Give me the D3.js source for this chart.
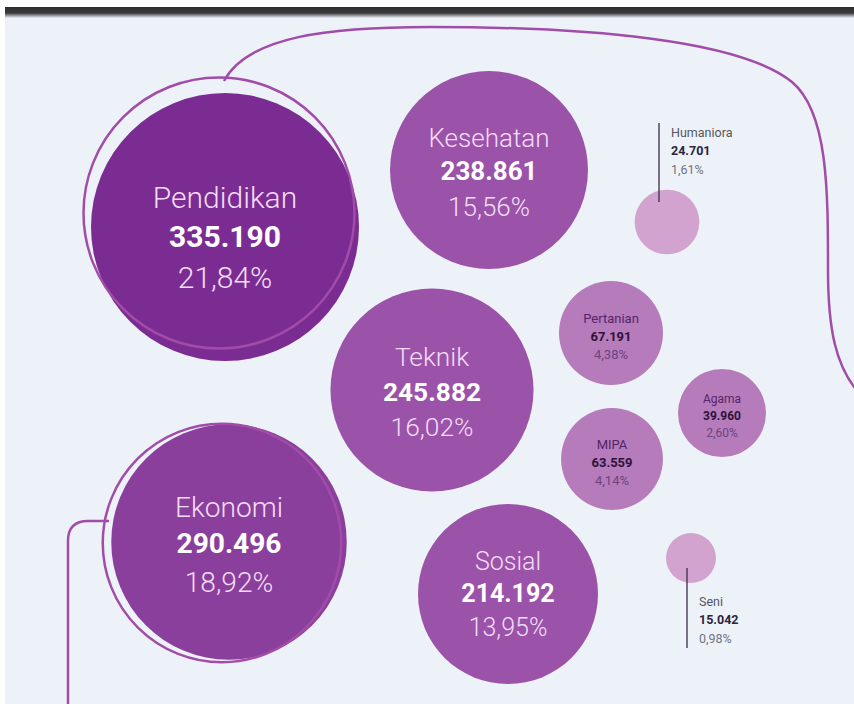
<!DOCTYPE html>
<html>
<head>
<meta charset="utf-8">
<script src="https://cdn.jsdelivr.net/npm/d3@7"></script>
<style>
  html, body { margin: 0; padding: 0; background: #fff; }
  svg { display: block; font-family: Roboto, "Noto Sans", sans-serif; }
</style>
</head>
<body>
<div id="chart"></div>
<script>
// Mahasiswa per bidang ilmu
const categories = ['Pendidikan', 'Ekonomi', 'Teknik', 'Kesehatan', 'Sosial', 'Pertanian', 'MIPA', 'Agama', 'Humaniora', 'Seni'];
const students = [335190, 290496, 245882, 238861, 214192, 67191, 63559, 39960, 24701, 15042];
const shares = [21.84, 18.92, 16.02, 15.56, 13.95, 4.38, 4.14, 2.60, 1.61, 0.98];

const width = 854;
const height = 704;

// Hand-placed bubble anchors (infographic layout, not data)
const layout = {
  Pendidikan: { x: 225, y: 227, dy: 8, ring: [-6, -14] },
  Ekonomi:    { x: 229, y: 542, dy: 0, ring: [-7, 1] },
  Teknik:     { x: 432, y: 390, dy: 0 },
  Kesehatan:  { x: 489, y: 170, dy: 0 },
  Sosial:     { x: 508, y: 594, dy: -2 },
  Pertanian:  { x: 611, y: 333, dy: 0 },
  MIPA:       { x: 612, y: 459, dy: 0 },
  Agama:      { x: 722, y: 413, dy: 0 },
  Humaniora:  { x: 667, y: 222, callout: 'up' },
  Seni:       { x: 691, y: 558, callout: 'down' }
};

const data = categories.map((name, i) => ({
  name,
  value: students[i],
  share: shares[i],
  ...layout[name]
}));

const id = d3.formatLocale({ decimal: ',', thousands: '.', grouping: [3], currency: ['Rp', ''] });
const fmtValue = id.format(',d');
const fmtShare = id.format('.2f');

// Bubble size (piecewise, the infographic is not strictly area-true)
const r = d3.scaleLinear()
  .domain([15042, 39960, 67191, 214192, 335190])
  .range([25, 44, 52, 90, 134]);

const color = d3.scaleThreshold()
  .domain([30000, 100000, 280000, 320000])
  .range(['#d3a3cf', '#b57bba', '#9b53a9', '#8b3f9d', '#7b2c92']);

const fontSize = d3.scaleLinear().domain([90, 134]).range([25, 30]).clamp(true);

const svg = d3.select('#chart')
  .append('svg')
  .attr('width', width)
  .attr('height', height);

// Page background + dark top strip
const defs = svg.append('defs');
const shade = defs.append('linearGradient')
  .attr('id', 'topShade')
  .attr('x1', 0).attr('x2', 0).attr('y1', 0).attr('y2', 1);
shade.append('stop').attr('offset', '0%').attr('stop-color', '#2c2c2e');
shade.append('stop').attr('offset', '55%').attr('stop-color', '#3a3a3c');
shade.append('stop').attr('offset', '100%').attr('stop-color', '#edf2f8');

svg.append('rect')
  .attr('x', 5).attr('y', 7)
  .attr('width', width - 5).attr('height', height - 7)
  .attr('fill', '#edf2f8');

svg.append('rect')
  .attr('x', 5).attr('y', 7)
  .attr('width', width - 5).attr('height', 11)
  .attr('fill', 'url(#topShade)');

const lineColor = '#a24ca9';

// Decorative connector lines
svg.append('path')
  .attr('d', 'M224,81 C248,36 330,27 430,27 C590,27 740,40 792,82 C828,112 828,190 828,270 C828,330 836,366 858,392')
  .attr('fill', 'none')
  .attr('stroke', lineColor)
  .attr('stroke-width', 2.5);

svg.append('path')
  .attr('d', 'M109,521 L88,521 Q68,521 68,541 L68,706')
  .attr('fill', 'none')
  .attr('stroke', lineColor)
  .attr('stroke-width', 2.5);

const bubbles = svg.append('g')
  .selectAll('g')
  .data(data)
  .join('g')
  .attr('transform', d => `translate(${d.x},${d.y})`);

bubbles.append('circle')
  .attr('r', d => r(d.value))
  .attr('fill', d => color(d.value));

// Outline rings on the two largest bubbles
bubbles.filter(d => d.ring)
  .append('circle')
  .attr('cx', d => d.ring[0])
  .attr('cy', d => d.ring[1])
  .attr('r', d => r(d.value) + 1.5)
  .attr('fill', 'none')
  .attr('stroke', lineColor)
  .attr('stroke-width', 2.5);

// Big bubbles: light text inside
const big = bubbles.filter(d => r(d.value) >= 80);

big.each(function(d) {
  const g = d3.select(this);
  const f = fontSize(r(d.value));
  const t = g.append('text')
    .attr('text-anchor', 'middle')
    .attr('font-size', f);
  t.append('tspan')
    .attr('x', 0).attr('y', d.dy - 0.9 * f)
    .attr('font-weight', 300)
    .attr('fill', '#f3ddf6')
    .text(d.name);
  t.append('tspan')
    .attr('x', 0).attr('y', d.dy + 0.4 * f)
    .attr('font-weight', 700)
    .attr('fill', '#ffffff')
    .text(fmtValue(d.value));
  t.append('tspan')
    .attr('x', 0).attr('y', d.dy + 1.76 * f)
    .attr('font-weight', 300)
    .attr('fill', '#f3ddf6')
    .text(fmtShare(d.share) + '%');
});

// Medium bubbles: dark text inside
const mid = bubbles.filter(d => r(d.value) >= 40 && r(d.value) < 80);

mid.each(function(d) {
  const g = d3.select(this);
  const f = r(d.value) > 48 ? 13 : 12;
  const t = g.append('text')
    .attr('text-anchor', 'middle')
    .attr('font-size', f);
  t.append('tspan')
    .attr('x', 0).attr('y', d.dy - 0.8 * f)
    .attr('fill', '#55256a')
    .text(d.name);
  t.append('tspan')
    .attr('x', 0).attr('y', d.dy + 0.62 * f)
    .attr('font-weight', 700)
    .attr('fill', '#2e1239')
    .text(fmtValue(d.value));
  t.append('tspan')
    .attr('x', 0).attr('y', d.dy + 2 * f)
    .attr('fill', '#6e4480')
    .text(fmtShare(d.share) + '%');
});

// Small bubbles: callout line + text outside
const small = bubbles.filter(d => r(d.value) < 40);

small.each(function(d) {
  const g = d3.select(this);
  const up = d.callout === 'up';
  const lx = up ? -8 : -4;
  const y1 = up ? -20 : 10;
  const y2 = up ? -99 : 90;
  g.append('line')
    .attr('x1', lx).attr('x2', lx)
    .attr('y1', y1).attr('y2', y2)
    .attr('stroke', '#3a2c48')
    .attr('stroke-width', 1.3);

  const top = up ? y2 + 14 : 48;
  const t = g.append('text')
    .attr('font-size', 12.5)
    .attr('x', lx + 12);
  t.append('tspan')
    .attr('x', lx + 12).attr('y', top)
    .attr('fill', '#555563')
    .text(d.name);
  t.append('tspan')
    .attr('x', lx + 12).attr('y', top + 18)
    .attr('font-weight', 700)
    .attr('fill', '#2a2440')
    .text(fmtValue(d.value));
  t.append('tspan')
    .attr('x', lx + 12).attr('y', top + 37)
    .attr('fill', '#727282')
    .text(fmtShare(d.share) + '%');
});
</script>
</body>
</html>
